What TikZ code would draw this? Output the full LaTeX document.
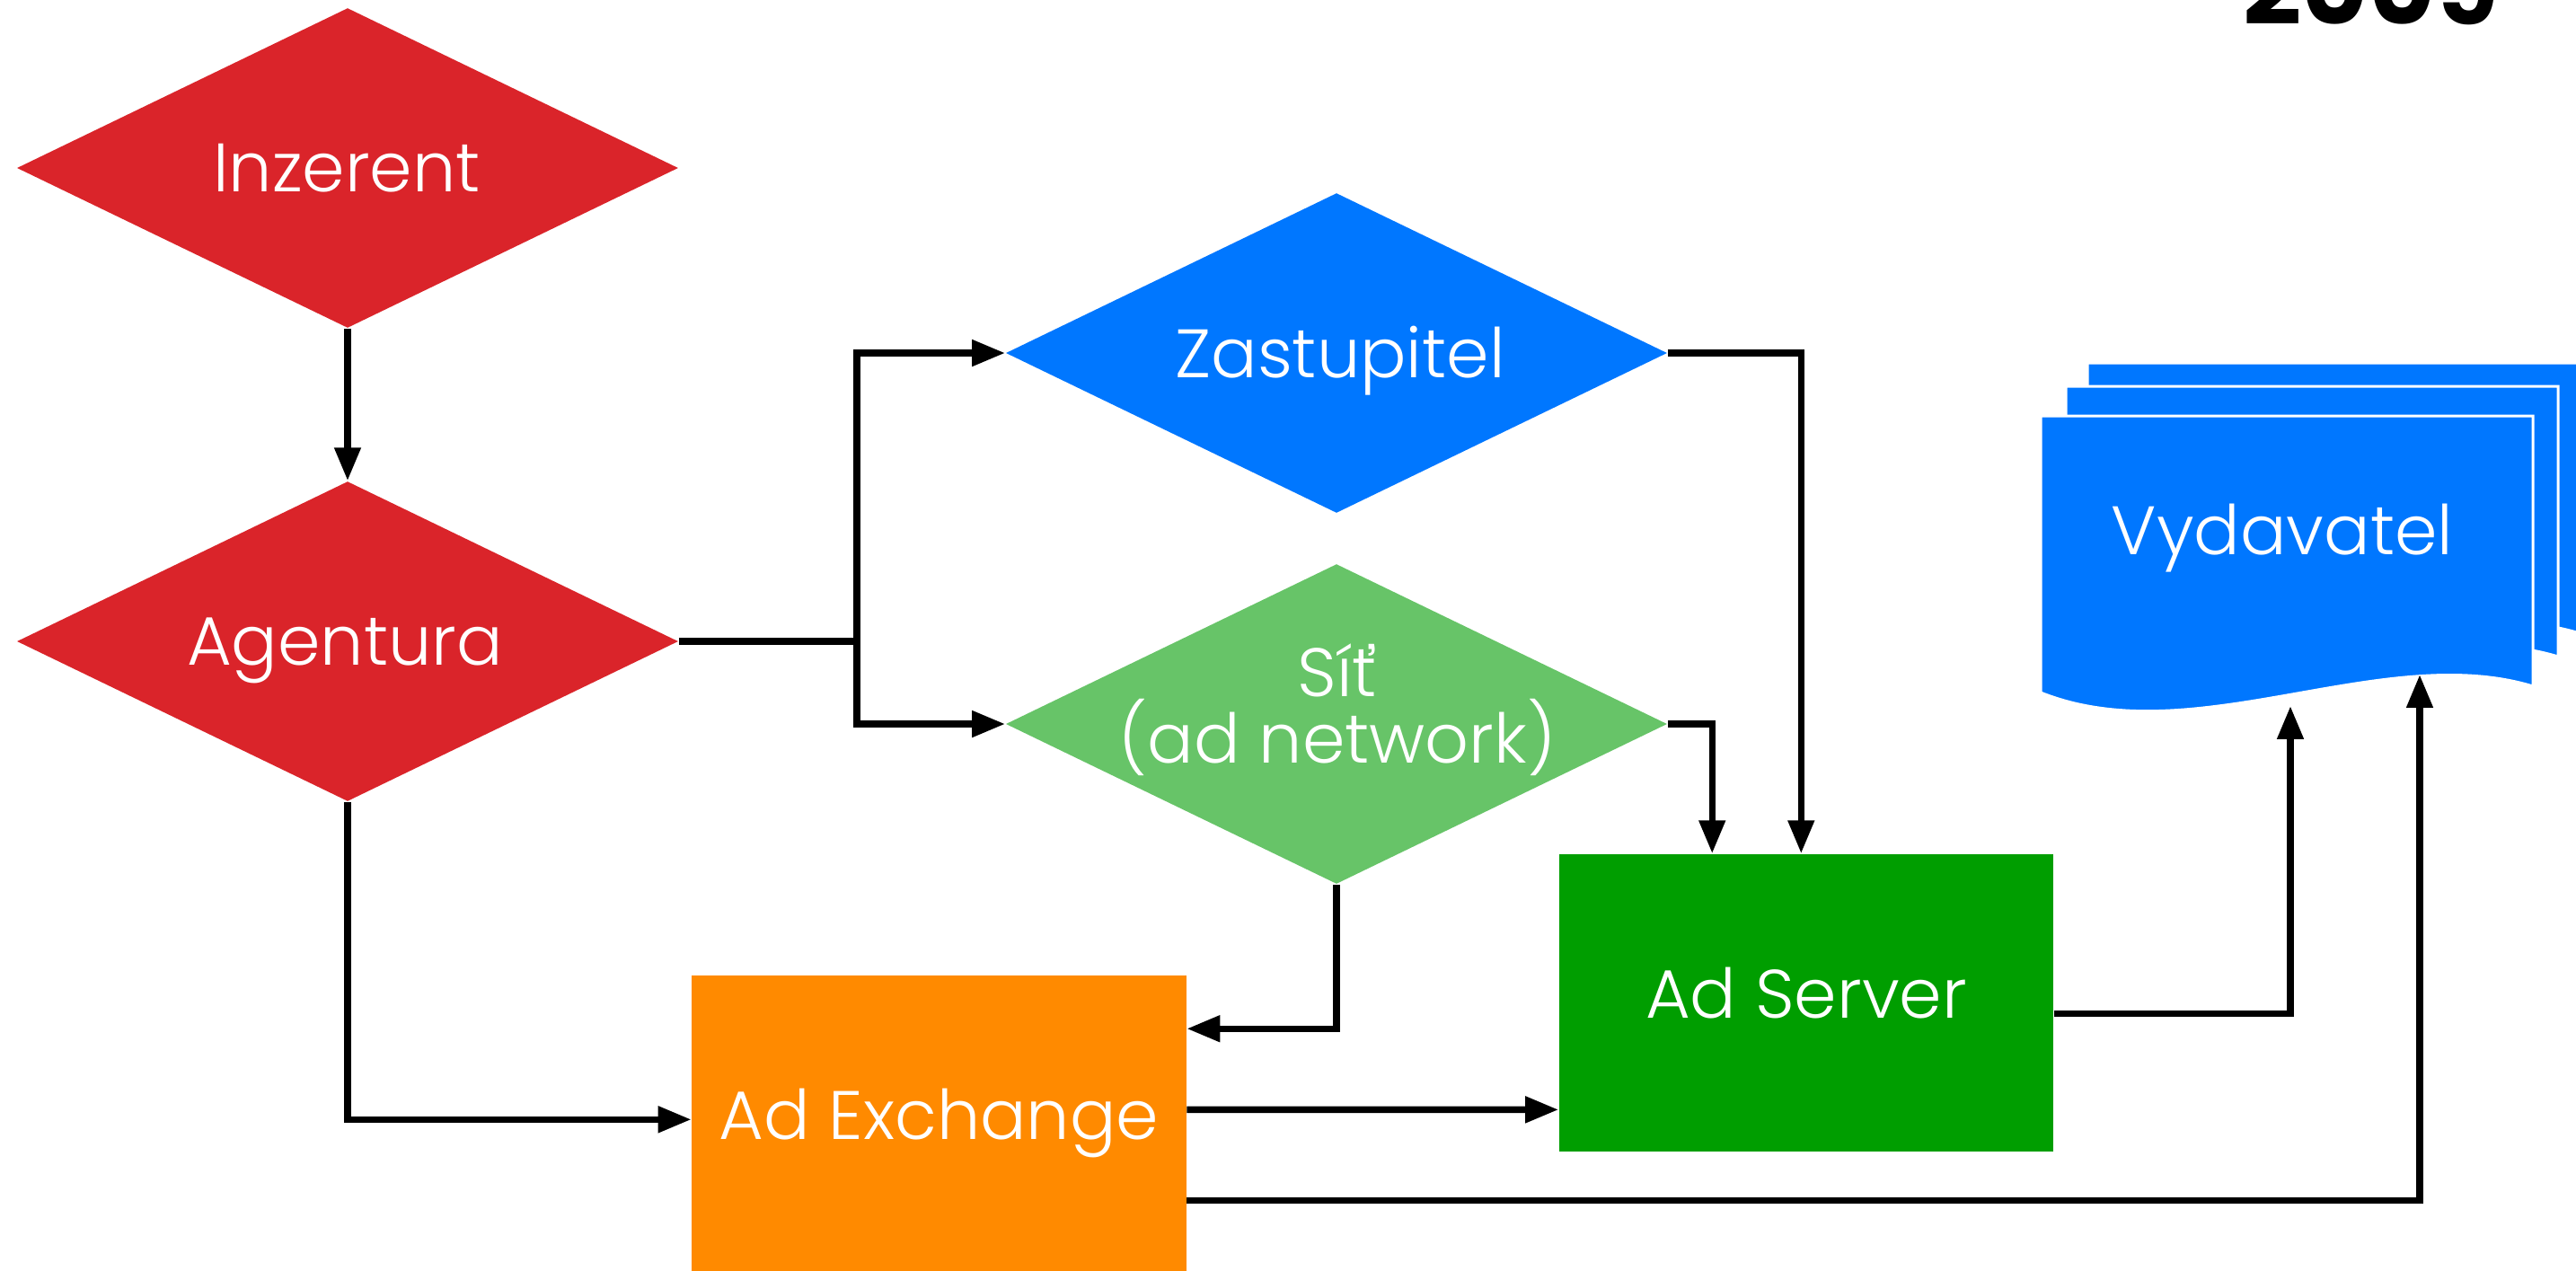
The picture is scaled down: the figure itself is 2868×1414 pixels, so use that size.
\documentclass[tikz,border=0pt]{standalone}
\usepackage{fontspec}
\IfFontExistsTF{Poppins Light}{\setmainfont{Poppins Light}}{\setmainfont{Poppins}}
\IfFontExistsTF{Poppins Bold}{\newfontfamily\yrfont{Poppins Bold}}{\newfontfamily\yrfont{Poppins}[FakeBold=2]}
\usetikzlibrary{shapes.geometric,arrows.meta}
\definecolor{cRed}{RGB}{218,36,42}
\definecolor{cBlue}{RGB}{0,119,255}
\definecolor{cLgreen}{RGB}{103,196,104}
\definecolor{cDgreen}{RGB}{0,158,0}
\definecolor{cOrange}{RGB}{255,138,0}
\newcommand{\lblfont}{\fontsize{21.7}{22}\selectfont}
\newcommand{\docshape}[2]{%
  \begin{scope}[shift={(#1,#2)}]
    \filldraw[fill=cBlue, draw=white, line width=0.85pt]
      (0,0) -- (548,0) -- (548,301)
      .. controls (380,250) and (170,376) .. (0,308)
      -- cycle;
  \end{scope}}
\begin{document}
\begin{tikzpicture}[x=0.01cm, y=-0.01cm,
  dia/.style={diamond, minimum width=7.36cm, minimum height=3.56cm, inner sep=0pt, draw=none},
  boxnode/.style={rectangle, minimum width=5.5cm, minimum height=3.31cm, inner sep=0pt,
    text=white, font=\lblfont, text height=15.2pt, text depth=5.7pt},
  lbl/.style={text=white, font=\lblfont, inner sep=0pt, text height=15.2pt, text depth=0pt},
  ln/.style={line width=2.1pt, line join=miter},
  arr/.style={ln, -{Triangle[length=10.5pt, width=8pt]}}]
\useasboundingbox (0,0) rectangle (2868,1414);
\fill[white] (0,0) rectangle (2868,1414);

% year
\node[font=\yrfont\fontsize{32.5}{32.5}\selectfont, anchor=base, inner sep=0pt] (yr) at (2640,27) {2009};

% diamonds
\node[dia, fill=cRed] (inz) at (387,187) {};
\node[lbl] (inzt) at (386,187) {Inzerent};
\node[dia, fill=cRed] (agt) at (387,714) {};
\node[lbl] (agtt) at (384,714) {Agentura};
\node[dia, fill=cBlue] (zas) at (1488,393) {};
\node[lbl] (zast) at (1492,394) {Zastupitel};
\node[dia, fill=cLgreen] (sit) at (1488,806) {};
\node[lbl] (sitt1) at (1489,749) {Síť};
\node[lbl] (sitt2) at (1489,823) {(ad network)};

% boxes
\node[boxnode, fill=cOrange] (adx) at (1045.5,1251.5) {Ad Exchange};
\node[boxnode, fill=cDgreen] (asv) at (2011,1116.5) {Ad Server};

% multi-document
\docshape{2324}{404}
\docshape{2300}{430}
\docshape{2272}{463}
\node[rectangle, minimum width=5.48cm, minimum height=3.0cm, inner sep=0pt] (vyd) at (2546,613) {};
\node[lbl] (vydt) at (2541,591) {Vydavatel};
\coordinate (vydA) at (2694,751);
\coordinate (vydB) at (2550,786);

% connectors
\draw[arr] (inz.south) -- (agt.north);
\coordinate (jA) at (954,714);
\draw[ln] (agt.east) -- (jA);
\draw[arr] (jA) |- (zas.west);
\draw[arr] (jA) |- (sit.west);
\draw[arr] (agt.south) |- ([yshift=-1.61cm]adx.north west);
\draw[arr] (zas.east) -| ([xshift=2.70cm]asv.north west);
\draw[arr] (sit.east) -| ([xshift=1.71cm]asv.north west);
\draw[arr] (sit.south) |- ([yshift=-0.60cm]adx.north east);
\draw[arr] ([yshift=-1.50cm]adx.north east) -- ([yshift=-2.85cm]asv.north west);
\draw[arr] ([yshift=-2.51cm]adx.north east) -| (vydA);
\draw[arr] ([yshift=-1.78cm]asv.north east) -| (vydB);
\end{tikzpicture}
\end{document}
